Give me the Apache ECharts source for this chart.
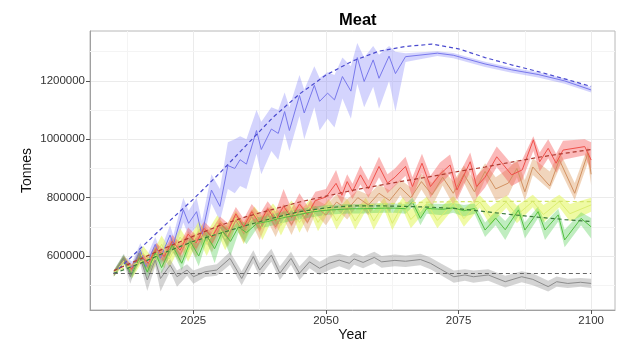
<!DOCTYPE html>
<html>
<head>
<meta charset="utf-8">
<script src="https://cdn.jsdelivr.net/npm/echarts@6/dist/echarts.min.js"></script>
<style>
  html, body { margin: 0; padding: 0; background: #fff; }
  #chart { width: 621px; height: 343px; }
</style>
</head>
<body>
<div id="chart"></div>
<script>
// all values in thousand tonnes
const blueYears = [2010, 2011.8, 2013.5, 2015, 2016, 2017.8, 2018.8, 2020.6, 2021.2, 2023.1, 2024.1, 2025.6, 2026.6, 2028.4, 2030, 2031.5, 2032.8, 2033.8, 2035, 2036.9, 2037.8, 2039.7, 2041, 2042.2, 2043.1, 2045, 2045.9, 2047.8, 2048.8, 2050.3, 2051.6, 2053.1, 2054.7, 2055.9, 2057.2, 2058.9, 2060, 2061.9, 2063.1, 2065, 2071, 2074, 2080, 2085, 2090, 2095, 2100];
const blueMid = [540, 590, 560, 621, 563, 640, 593, 672, 638, 758, 712, 752, 672, 826, 770, 910, 900, 930, 915, 1030, 965, 1035, 1020, 1095, 1030, 1150, 1090, 1185, 1130, 1158, 1135, 1215, 1165, 1280, 1198, 1272, 1209, 1285, 1225, 1283, 1295, 1288, 1258, 1238, 1222, 1200, 1169];
const blueLow = [530, 580, 540, 600, 545, 615, 570, 640, 605, 715, 670, 700, 630, 780, 720, 830, 815, 840, 830, 950, 880, 960, 930, 1020, 960, 1080, 1000, 1110, 1030, 1070, 1040, 1140, 1070, 1190, 1110, 1180, 1105, 1200, 1095, 1265, 1285, 1278, 1248, 1228, 1212, 1190, 1160];
const blueHigh = [550, 600, 580, 645, 590, 665, 620, 705, 670, 800, 755, 800, 720, 880, 830, 990, 1000, 1010, 1000, 1100, 1060, 1110, 1100, 1160, 1110, 1220, 1170, 1250, 1210, 1230, 1220, 1280, 1250, 1330, 1280, 1320, 1290, 1320, 1300, 1295, 1302, 1296, 1266, 1246, 1230, 1208, 1178];

const redYears = [2010, 2011.8, 2013.3, 2015, 2016.5, 2018, 2019.5, 2021, 2022.5, 2024, 2025.5, 2027, 2028.5, 2030, 2031.5, 2033, 2034.5, 2036, 2037.5, 2039, 2040.5, 2042, 2043.5, 2045, 2046.5, 2048, 2050, 2051.9, 2053, 2054, 2055, 2056.5, 2058, 2060, 2061.6, 2063, 2065, 2066.3, 2068.1, 2069.7, 2071.5, 2073.4, 2074.7, 2077.2, 2078.4, 2080, 2082.2, 2085, 2087, 2089.1, 2090.3, 2091.9, 2093.4, 2094.7, 2098.8, 2100];
const redMid = [540, 590, 555, 600, 575, 625, 598, 650, 620, 675, 645, 695, 665, 712, 685, 745, 700, 752, 712, 762, 722, 770, 732, 778, 742, 790, 802, 849, 808, 855, 821, 878, 830, 907, 850, 870, 907, 838, 918, 838, 880, 912, 826, 923, 838, 870, 940, 878, 895, 998, 923, 969, 918, 963, 975, 929];
const redLow = [532, 580, 540, 585, 555, 605, 575, 628, 595, 652, 618, 672, 638, 690, 655, 722, 672, 728, 682, 738, 690, 745, 700, 752, 710, 762, 775, 815, 780, 825, 795, 845, 800, 870, 815, 840, 875, 800, 885, 800, 845, 880, 790, 890, 800, 835, 905, 840, 860, 960, 890, 935, 885, 930, 945, 890];
const redHigh = [548, 600, 570, 615, 595, 645, 620, 672, 645, 698, 672, 718, 692, 735, 712, 768, 728, 778, 742, 788, 752, 830, 762, 815, 772, 820, 830, 895, 835, 880, 848, 910, 860, 940, 880, 900, 940, 870, 950, 875, 920, 948, 865, 955, 875, 905, 975, 915, 930, 1010, 955, 1000, 950, 995, 1000, 990];

const tanYears = [2010, 2011.8, 2013.3, 2015, 2016.5, 2018, 2019.5, 2021, 2022.5, 2024, 2025.5, 2027, 2028.5, 2030, 2031.5, 2033, 2034.5, 2036, 2037.5, 2039, 2040.5, 2042, 2043.5, 2045, 2046.5, 2048, 2050, 2052, 2054, 2056, 2058, 2060, 2062, 2064, 2066, 2068, 2070, 2072, 2074, 2076, 2078, 2080, 2082, 2084.4, 2086, 2087.5, 2089, 2092.2, 2094, 2096.9, 2099.4, 2100];
const tanMid = [540, 588, 550, 595, 565, 618, 585, 640, 605, 662, 628, 680, 645, 700, 665, 722, 680, 735, 692, 745, 700, 752, 708, 760, 715, 770, 740, 785, 760, 800, 775, 815, 790, 835, 800, 855, 810, 870, 815, 880, 820, 890, 830, 850, 900, 820, 905, 840, 930, 815, 953, 880];
const tanLow = [532, 578, 532, 578, 540, 598, 558, 618, 575, 640, 595, 658, 612, 678, 630, 700, 645, 712, 655, 720, 665, 728, 672, 735, 680, 745, 705, 760, 725, 775, 740, 790, 752, 808, 765, 828, 770, 842, 775, 852, 780, 862, 790, 808, 870, 790, 878, 826, 900, 792, 920, 843];
const tanHigh = [548, 598, 568, 612, 590, 640, 612, 662, 635, 685, 660, 705, 680, 722, 700, 745, 715, 760, 728, 770, 738, 778, 745, 785, 752, 795, 775, 812, 795, 825, 810, 845, 825, 862, 835, 882, 850, 898, 855, 910, 860, 918, 870, 900, 930, 860, 935, 890, 960, 850, 975, 930];

const yellowYears = [2010, 2012, 2013.5, 2015.5, 2017, 2019, 2020.5, 2022.5, 2024, 2026, 2027.5, 2029.5, 2031, 2033, 2034.5, 2036.5, 2038, 2040, 2041.5, 2043.5, 2045, 2047, 2048.5, 2050.5, 2052, 2054, 2055.5, 2057.5, 2059, 2061, 2062.5, 2064.5, 2066, 2069, 2071, 2074, 2076, 2079, 2081, 2084, 2086, 2089, 2091, 2094, 2096, 2100];
const yellowMid = [540, 585, 545, 610, 570, 640, 590, 665, 615, 690, 640, 710, 660, 730, 680, 745, 695, 755, 705, 765, 715, 770, 715, 772, 720, 772, 720, 775, 720, 778, 712, 778, 725, 780, 722, 782, 728, 785, 735, 785, 740, 787, 742, 787, 745, 775];
const yellowLow = [530, 570, 525, 585, 540, 610, 560, 635, 580, 660, 600, 680, 620, 700, 640, 720, 655, 730, 670, 745, 680, 750, 685, 752, 690, 752, 690, 755, 690, 758, 688, 758, 695, 760, 695, 762, 700, 765, 705, 765, 712, 767, 715, 767, 718, 752];
const yellowHigh = [550, 600, 565, 635, 600, 670, 625, 695, 650, 720, 680, 740, 700, 755, 715, 770, 735, 780, 745, 790, 750, 795, 750, 795, 755, 795, 755, 800, 755, 800, 745, 802, 760, 803, 758, 805, 762, 808, 768, 808, 772, 810, 775, 810, 778, 800];

const greenYears = [2010, 2011.8, 2013.3, 2015, 2016.3, 2017.8, 2019, 2021, 2022.8, 2024.4, 2026, 2027.5, 2029, 2030.5, 2032, 2033.5, 2035, 2037, 2039, 2041, 2043, 2045, 2047, 2049, 2051, 2053, 2055, 2057, 2059, 2061, 2063, 2065, 2066.3, 2067.8, 2069, 2072, 2074, 2076, 2078, 2080, 2082, 2083.8, 2086.3, 2087.5, 2090, 2091.3, 2093.8, 2095, 2098.1, 2100];
const greenMid = [540, 592, 535, 600, 545, 612, 560, 638, 575, 650, 600, 670, 625, 685, 650, 700, 680, 712, 718, 728, 735, 742, 750, 755, 758, 760, 762, 762, 763, 764, 764, 762, 785, 729, 763, 760, 765, 755, 763, 689, 730, 690, 758, 689, 752, 689, 741, 655, 729, 700];
const greenLow = [530, 580, 520, 585, 525, 595, 540, 620, 550, 632, 565, 652, 575, 665, 600, 680, 640, 695, 700, 710, 718, 725, 732, 738, 742, 745, 746, 746, 747, 748, 748, 745, 768, 705, 745, 740, 748, 735, 745, 665, 705, 655, 738, 660, 730, 655, 718, 630, 705, 660];
const greenHigh = [550, 605, 550, 615, 565, 630, 585, 655, 600, 668, 640, 688, 665, 705, 690, 720, 712, 732, 738, 748, 755, 760, 768, 772, 775, 777, 778, 778, 780, 780, 780, 778, 800, 750, 780, 778, 782, 775, 780, 715, 752, 720, 775, 715, 770, 715, 762, 690, 750, 730];

const grayYears = [2010, 2011.9, 2013.1, 2014.7, 2016.3, 2017.8, 2018.8, 2020.6, 2021.9, 2023.8, 2025, 2027.2, 2029.4, 2031.9, 2034.1, 2036.3, 2037.5, 2039.7, 2041.3, 2043.4, 2045, 2046.9, 2048.8, 2050.6, 2052.5, 2054.4, 2055.3, 2057, 2059.1, 2060.5, 2063, 2065, 2067.8, 2069.7, 2071.6, 2074.1, 2076.2, 2077.8, 2080.6, 2083.8, 2086.9, 2089, 2091.9, 2093.5, 2095.6, 2098, 2100];
const grayMid = [541, 592, 529, 609, 518, 586, 523, 569, 529, 552, 529, 546, 552, 592, 523, 598, 552, 603, 541, 592, 541, 580, 558, 575, 586, 575, 590, 578, 595, 580, 585, 582, 588, 575, 555, 529, 535, 529, 535, 512, 529, 520, 495, 512, 506, 510, 506];
const grayLow = [530, 575, 505, 590, 480, 565, 478, 548, 495, 532, 505, 528, 532, 570, 500, 575, 528, 580, 518, 570, 518, 558, 535, 552, 565, 552, 570, 558, 575, 560, 565, 562, 568, 555, 535, 508, 515, 508, 515, 492, 510, 500, 478, 495, 490, 495, 490];
const grayHigh = [552, 608, 550, 625, 545, 605, 545, 590, 550, 572, 550, 565, 572, 615, 548, 620, 575, 625, 565, 615, 565, 602, 580, 598, 608, 598, 610, 598, 615, 600, 605, 602, 608, 595, 575, 550, 555, 550, 555, 532, 548, 540, 515, 530, 522, 525, 522];

// dashed trend lines
const trendYears = [2010, 2015, 2020, 2025, 2030, 2035, 2040, 2045, 2050, 2055, 2060, 2065, 2070, 2075, 2080, 2085, 2090, 2095, 2100];
const blueTrend = [540, 626, 712, 795, 885, 980, 1075, 1155, 1220, 1268, 1302, 1318, 1326, 1310, 1280, 1255, 1232, 1207, 1181];
const redTrend = [550, 590, 630, 668, 705, 735, 760, 785, 805, 825, 842, 858, 873, 890, 905, 922, 938, 952, 965];
const yellowTrend = [545, 580, 615, 648, 680, 705, 728, 748, 762, 772, 778, 782, 785, 786, 787, 787, 787, 787, 786];
const greenTrend = [540, 575, 615, 650, 678, 705, 730, 752, 765, 772, 772, 770, 767, 762, 752, 742, 733, 725, 718];
const grayTrend = [540, 540, 540, 540, 540, 540, 540, 540, 540, 540, 540, 540, 540, 540, 540, 540, 540, 540, 540];

const xTicks = [2025, 2050, 2075, 2100];
const xMinor = [2012.5, 2037.5, 2062.5, 2087.5];
const yTicks = [600000, 800000, 1000000, 1200000];
const yMinor = [500000, 700000, 900000, 1100000, 1300000];

const K = 1000;
const FONT = 'Liberation Sans, Arial, Helvetica, sans-serif';

function pts(years, vals) {
  return years.map((y, i) => [y, vals[i] * K]);
}

function band(years, low, high, fill) {
  const rows = years.map((y, i) => [y, low[i] * K, high[i] * K]);
  return {
    type: 'custom',
    silent: true,
    z: 2,
    data: rows,
    encode: { x: 0, y: [1, 2] },
    renderItem: function (params, api) {
      if (params.dataIndex !== 0) return null;
      const up = rows.map(r => api.coord([r[0], r[2]]));
      const dn = rows.map(r => api.coord([r[0], r[1]])).reverse();
      return { type: 'polygon', shape: { points: up.concat(dn) }, style: { fill: fill } };
    }
  };
}

function line(years, vals, color, dashed) {
  return {
    type: 'line',
    data: pts(years, vals),
    symbol: 'none',
    silent: true,
    z: dashed ? 4 : 3,
    lineStyle: { color: color, width: dashed ? 1.2 : 1, type: dashed ? [4, 3] : 'solid' }
  };
}

const chart = echarts.init(document.getElementById('chart'));
chart.setOption({
  animation: false,
  backgroundColor: '#fff',
  title: {
    text: 'Meat',
    left: 334,
    top: 7,
    textStyle: { fontSize: 16.5, fontWeight: 'bold', color: '#000', fontFamily: FONT }
  },
  grid: {
    left: 90, right: 6, top: 31, bottom: 33,
    outerBoundsMode: 'none',
    show: true, borderColor: '#B8B8B8', borderWidth: 1
  },
  xAxis: {
    type: 'value',
    min: 2005.5,
    max: 2104.5,
    axisLine: { show: true, onZero: false, lineStyle: { color: '#A0A0A0' } },
    axisTick: { show: true, customValues: xTicks, length: 4, lineStyle: { color: '#555' } },
    axisLabel: { customValues: xTicks, color: '#333', fontSize: 11.5, margin: 5, fontFamily: FONT,
      formatter: v => String(v) },
    splitLine: { show: true, lineStyle: { color: '#EBEBEB' } },
    name: 'Year',
    nameLocation: 'middle',
    nameGap: 18,
    nameMoveOverlap: false,
    nameTextStyle: { fontSize: 14, color: '#111', fontFamily: FONT, verticalAlign: 'top' }
  },
  yAxis: {
    type: 'value',
    min: 415000,
    max: 1371000,
    axisLine: { show: true, lineStyle: { color: '#A0A0A0' } },
    axisTick: { show: true, customValues: yTicks, length: 4, lineStyle: { color: '#555' } },
    axisLabel: { customValues: yTicks, color: '#333', fontSize: 11.5, margin: 5, fontFamily: FONT,
      formatter: v => String(v) },
    splitLine: { show: true, lineStyle: { color: '#EBEBEB' } },
    name: 'Tonnes',
    nameLocation: 'middle',
    nameGap: 56,
    nameMoveOverlap: false,
    nameTextStyle: { fontSize: 14, color: '#111', fontFamily: FONT, verticalAlign: 'bottom' }
  },
  series: [
    {
      type: 'line', data: [], silent: true,
      markLine: {
        silent: true, symbol: 'none', z: 1, label: { show: false },
        lineStyle: { color: '#F4F4F4', width: 1, type: 'solid' },
        data: xMinor.map(v => ({ xAxis: v })).concat(yMinor.map(v => ({ yAxis: v })))
      }
    },
    band(blueYears, blueLow, blueHigh, 'rgba(120,120,250,0.32)'),
    band(yellowYears, yellowLow, yellowHigh, 'rgba(225,245,90,0.55)'),
    band(tanYears, tanLow, tanHigh, 'rgba(222,155,95,0.42)'),
    band(redYears, redLow, redHigh, 'rgba(245,80,80,0.4)'),
    band(greenYears, greenLow, greenHigh, 'rgba(80,205,80,0.36)'),
    band(grayYears, grayLow, grayHigh, 'rgba(120,120,120,0.32)'),
    line(blueYears, blueMid, '#7878EC', false),
    line(yellowYears, yellowMid, '#DCEE70', false),
    line(tanYears, tanMid, '#D29262', false),
    line(redYears, redMid, '#F0504A', false),
    line(greenYears, greenMid, '#52C040', false),
    line(grayYears, grayMid, '#8C8C8C', false),
    line(trendYears, blueTrend, '#4A4ACF', true),
    line(trendYears, yellowTrend, '#D2E46A', true),
    line(trendYears, redTrend, '#B03A30', true),
    line(trendYears, greenTrend, '#3A7A3A', true),
    line(trendYears, grayTrend, '#666666', true)
  ]
});
</script>
</body>
</html>
